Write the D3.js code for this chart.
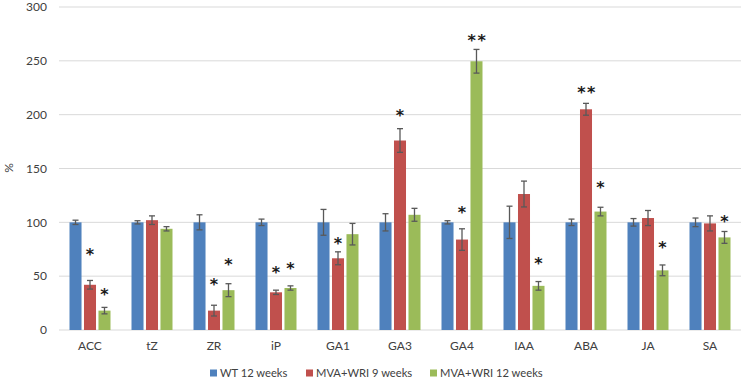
<!DOCTYPE html>
<html><head><meta charset="utf-8">
<script src="https://cdn.jsdelivr.net/npm/d3@7"></script>
<style>body{margin:0;background:#fff}svg{display:block;font-family:Lato,"Open Sans",sans-serif}</style>
</head><body>
<svg id="c" width="744" height="381"></svg>
<script>
const categories = ["ACC","tZ","ZR","iP","GA1","GA3","GA4","IAA","ABA","JA","SA"];
const seriesNames = ["WT 12 weeks","MVA+WRI 9 weeks","MVA+WRI 12 weeks"];
const colors = ["#4F81BD","#C0504D","#9BBB59"];
const wt      = [100,100,100,100,100,100,100,100,100,100,100];
const wtErr   = [2,1.5,7,3,12,8,1.5,15,3,3.5,4];
const mva9    = [42,102,18,35,66.6,176,84,126.3,205,104,99];
const mva9Err = [4,4,5,2,6,11,10,12,5.5,7,7];
const mva12   = [18,94,37,39,89,107,249.6,41,110,55.4,86];
const mva12Err= [3,2,6,2,10,6,11,4,4,5,5.5];
// significance marks: [category index, series index, label, position in %]
const sigMarks = [
  [0,1,"*",73.7],[0,2,"*",36],
  [2,1,"*",45.8],[2,2,"*",64.4],
  [3,1,"*",56.4],[3,2,"*",60.4],
  [4,1,"*",83.6],
  [5,1,"*",202.5],
  [6,1,"*",112.7],[6,2,"**",271.7],
  [7,2,"*",65],
  [8,1,"**",223.5],[8,2,"*",135.9],
  [9,2,"*",79.9],
  [10,2,"*",103.7]
];
const yTicks = [0,50,100,150,200,250,300];

const values = [wt,mva9,mva12], errs=[wtErr,mva9Err,mva12Err];
const svg = d3.select("#c");
const x0 = d3.scaleBand().domain(categories).range([59,741]);
const x1 = d3.scaleBand().domain([0,1,2]).range([0,41]).paddingInner(0.17);
const y = d3.scaleLinear().domain([0,300]).range([330,7]);
const off = (x0.bandwidth()-x1.range()[1])/2;

// gridlines
svg.append("g").selectAll("line").data(yTicks).join("line")
  .attr("x1",59).attr("x2",741).attr("y1",d=>y(d)).attr("y2",d=>y(d))
  .attr("stroke","#d9d9d9").attr("stroke-width",1);
// y labels
svg.append("g").selectAll("text").data(yTicks).join("text")
  .attr("x",47).attr("y",d=>y(d)).attr("dy","0.35em").attr("text-anchor","end")
  .attr("font-size",12).attr("fill","#404040").text(d=>d);
svg.append("text").attr("transform","translate(9,168) rotate(-90)").attr("text-anchor","middle")
  .attr("dy","0.35em").attr("font-size",12).attr("fill","#404040").text("%");

// bars
const data=[];
categories.forEach((c,i)=>[0,1,2].forEach(s=>data.push({c,i,s,v:values[s][i],e:errs[s][i]})));
const bx = d=>x0(d.c)+off+x1(d.s);
svg.append("g").selectAll("rect").data(data).join("rect")
  .attr("x",bx).attr("width",x1.bandwidth()).attr("y",d=>y(d.v)).attr("height",d=>y(0)-y(d.v))
  .attr("fill",d=>colors[d.s]);
// error bars
const eb = svg.append("g").attr("stroke","#595959").attr("stroke-width",1.3);
data.forEach(d=>{
  const cx = bx(d)+x1.bandwidth()/2;
  eb.append("line").attr("x1",cx).attr("x2",cx).attr("y1",y(d.v+d.e)).attr("y2",y(d.v-d.e));
  [d.v+d.e,d.v-d.e].forEach(v=>eb.append("line").attr("x1",cx-3).attr("x2",cx+3).attr("y1",y(v)).attr("y2",y(v)));
});
// significance
svg.append("g").selectAll("text").data(sigMarks).join("text")
  .attr("x",d=>x0(categories[d[0]])+off+x1(d[1])+x1.bandwidth()/2 + (d[2].length>1?1:0))
  .attr("y",d=>y(d[3])+9).attr("text-anchor","middle")
  .attr("font-size",16).attr("font-weight","bold").attr("font-family","DejaVu Sans").attr("fill","#1a1a1a")
  .attr("letter-spacing",d=>d[2].length>1?"1.5px":"0")
  .text(d=>d[2]);
// category labels
svg.append("g").selectAll("text").data(categories).join("text")
  .attr("x",d=>x0(d)+x0.bandwidth()/2).attr("y",346).attr("dy","0.35em").attr("text-anchor","middle")
  .attr("font-size",12).attr("fill","#404040").text(d=>d);
// legend
const legX=[210,306,430];
const lg = svg.append("g").selectAll("g").data(seriesNames).join("g")
  .attr("transform",(d,i)=>`translate(${legX[i]},373)`);
lg.append("rect").attr("x",0).attr("y",-3.5).attr("width",7).attr("height",7).attr("fill",(d,i)=>colors[i]);
lg.append("text").attr("x",10).attr("dy","0.35em").attr("font-size",11.2).attr("fill","#404040").text(d=>d);
</script>
</body></html>
